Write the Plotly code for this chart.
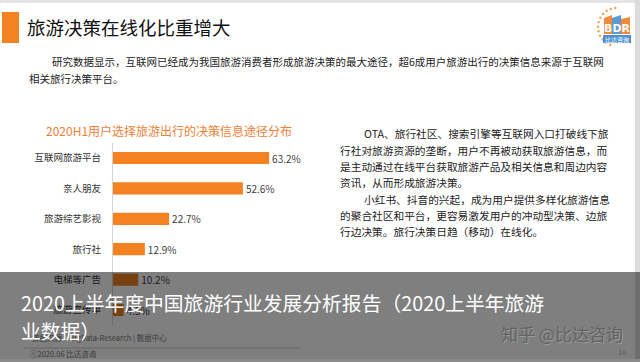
import plotly.graph_objects as go
import math

# ---- data ----
categories = ["互联网旅游平台", "亲人朋友", "旅游综艺影视", "旅行社", "电梯等广告", "旅游宣传单"]
values = [63.2, 52.6, 22.7, 12.9, 10.2, 4.3]
value_labels = [f"{v:.1f}%" for v in values]

page_title = "旅游决策在线化比重增大"
intro_line1 = "研究数据显示，互联网已经成为我国旅游消费者形成旅游决策的最大途径，超6成用户旅游出行的决策信息来源于互联网"
intro_line2 = "相关旅行决策平台。"
chart_title = "2020H1用户选择旅游出行的决策信息途径分布"
right_lines = [
    "OTA、旅行社区、搜索引擎等互联网入口打破线下旅",
    "行社对旅游资源的垄断，用户不再被动获取旅游信息，而",
    "是主动通过在线平台获取旅游产品及相关信息和周边内容",
    "资讯，从而形成旅游决策。",
    "小红书、抖音的兴起，成为用户提供多样化旅游信息",
    "的聚合社区和平台，更容易激发用户的冲动型决策、边旅",
    "行边决策。旅行决策日趋（移动）在线化。",
]
source_text = "数据来源：BigData-Research | 数据中心"
copyright_text = "ⓒ2020.06 比达咨询"
overlay_line1 = "2020上半年度中国旅游行业发展分析报告（2020上半年旅游"
overlay_line2 = "业数据）"
watermark = "知乎 @比达咨询"
page_no = "10"

W, H = 640, 362
FONT = "Noto Sans CJK SC"
ORANGE = "#F58220"


def px(x):
    return x / W


def py(y):
    return 1 - y / H


fig = go.Figure()
fig.add_trace(go.Bar(
    x=values, y=categories, orientation="h",
    marker=dict(color=ORANGE, line=dict(width=0)),
    text=value_labels, textposition="outside", cliponaxis=False,
    textfont=dict(size=10, color="#404040", family=FONT),
    hoverinfo="skip",
))

shapes = []
annotations = []

# slide border bits
shapes.append(dict(type="rect", xref="paper", yref="paper", x0=0, x1=1, y0=py(3), y1=1,
                   fillcolor="#e4e4e4", line=dict(width=0), layer="below"))
shapes.append(dict(type="rect", xref="paper", yref="paper", x0=px(635), x1=1, y0=0, y1=1,
                   fillcolor="#dcdcdc", line=dict(width=0), layer="below"))
# orange title marker
shapes.append(dict(type="rect", xref="paper", yref="paper", x0=px(2), x1=px(19), y0=py(43), y1=py(12),
                   fillcolor=ORANGE, line=dict(width=0), layer="below"))

# logo (simplified)
for i in range(12):
    a = math.radians(95 + i * 14)
    cx, cy = 617 + 19 * math.cos(a), 27 - 19 * math.sin(a)
    shapes.append(dict(type="circle", xref="paper", yref="paper",
                       x0=px(cx - 1.2), x1=px(cx + 1.2), y0=py(cy + 1.2), y1=py(cy - 1.2),
                       fillcolor="#F5A050", line=dict(width=0), layer="below"))
shapes.append(dict(type="path", xref="paper", yref="paper",
                   path=f"M {px(604)},{py(34)} L {px(604)},{py(18)} L {px(612)},{py(15)} L {px(612)},{py(34)} Z",
                   fillcolor="#F08A3A", line=dict(width=0), layer="below"))
shapes.append(dict(type="path", xref="paper", yref="paper",
                   path=f"M {px(612)},{py(34)} L {px(612)},{py(18)} L {px(621)},{py(15)} L {px(621)},{py(34)} Z",
                   fillcolor="#5B9BD5", line=dict(width=0), layer="below"))
shapes.append(dict(type="path", xref="paper", yref="paper",
                   path=f"M {px(621)},{py(34)} L {px(621)},{py(19)} L {px(630)},{py(17)} L {px(630)},{py(34)} Z",
                   fillcolor="#F08A3A", line=dict(width=0), layer="below"))
shapes.append(dict(type="rect", xref="paper", yref="paper", x0=px(603), x1=px(631), y0=py(43), y1=py(35),
                   fillcolor="#4A90D0", line=dict(width=0), layer="below"))
annotations.append(dict(text="<b>BDR</b>", x=px(617), y=py(29), xref="paper", yref="paper",
                        showarrow=False, font=dict(size=11, color="white", family="DejaVu Sans"),
                        xanchor="center", yanchor="middle"))
annotations.append(dict(text="比达咨询", x=px(617), y=py(39.5), xref="paper", yref="paper",
                        showarrow=False, font=dict(size=6, color="white", family=FONT),
                        xanchor="center", yanchor="middle"))

# title and intro
annotations.append(dict(text=page_title, x=px(25), y=py(27), xref="paper", yref="paper",
                        showarrow=False, font=dict(size=18.5, color="#111111", family=FONT),
                        xanchor="left", yanchor="middle"))
annotations.append(dict(text=intro_line1, x=px(50), y=py(61.5), xref="paper", yref="paper",
                        showarrow=False, font=dict(size=10.5, color="#222222", family=FONT),
                        xanchor="left", yanchor="middle"))
annotations.append(dict(text=intro_line2, x=px(27), y=py(78), xref="paper", yref="paper",
                        showarrow=False, font=dict(size=10.5, color="#222222", family=FONT),
                        xanchor="left", yanchor="middle"))

# chart title
annotations.append(dict(text=chart_title, x=px(169), y=py(130), xref="paper", yref="paper",
                        showarrow=False, font=dict(size=12, color="#EE8036", family=FONT),
                        xanchor="center", yanchor="middle"))

# right text block
line_y = [133.5, 150.5, 166.2, 182, 199, 215, 231]
for i, (t, yy) in enumerate(zip(right_lines, line_y)):
    x0 = 362 if i in (0, 4) else 338
    annotations.append(dict(text=t, x=px(x0), y=py(yy), xref="paper", yref="paper",
                            showarrow=False, font=dict(size=10.7, color="#222222", family=FONT),
                            xanchor="left", yanchor="middle"))

# source & copyright (under overlay -> pre-darkened colours)
annotations.append(dict(text=source_text, x=px(169), y=py(337.5), xref="paper", yref="paper",
                        showarrow=False, font=dict(size=7.5, color="#3a3a3a", family=FONT),
                        xanchor="right", yanchor="middle"))
annotations.append(dict(text=copyright_text, x=px(28), y=py(353), xref="paper", yref="paper",
                        showarrow=False, font=dict(size=7.5, color="#3a3a3a", family=FONT),
                        xanchor="left", yanchor="middle"))

# grey overlay band
shapes.append(dict(type="rect", xref="paper", yref="paper", x0=0, x1=1, y0=py(359), y1=py(272),
                   fillcolor="rgba(0,0,0,0.5)", line=dict(width=0), layer="above"))
shapes.append(dict(type="rect", xref="paper", yref="paper", x0=0, x1=1, y0=0, y1=py(359),
                   fillcolor="#8a8a8a", line=dict(width=0), layer="above"))
shapes.append(dict(type="line", xref="paper", yref="paper", x0=px(24), x1=px(300), y0=py(348), y1=py(348),
                   line=dict(color="#666666", width=1), layer="above"))

annotations.append(dict(text=overlay_line1, x=px(19), y=py(302), xref="paper", yref="paper",
                        showarrow=False, font=dict(size=19.8, color="white", family=FONT),
                        xanchor="left", yanchor="middle"))
annotations.append(dict(text=overlay_line2, x=px(19), y=py(330), xref="paper", yref="paper",
                        showarrow=False, font=dict(size=19.8, color="white", family=FONT),
                        xanchor="left", yanchor="middle"))
annotations.append(dict(text=watermark, x=px(625), y=py(333), xref="paper", yref="paper",
                        showarrow=False,
                        font=dict(size=17, color="#626262", family=FONT, shadow="1px 1px 0px #9a9a9a"),
                        xanchor="right", yanchor="middle"))
annotations.append(dict(text=page_no, x=px(628), y=py(352), xref="paper", yref="paper",
                        showarrow=False, font=dict(size=7, color="#555555", family=FONT),
                        xanchor="right", yanchor="middle"))

fig.update_layout(
    width=W, height=H,
    margin=dict(l=0, r=0, t=0, b=0),
    paper_bgcolor="white", plot_bgcolor="rgba(0,0,0,0)",
    showlegend=False,
    bargap=0.6,
    uniformtext=dict(mode=False),
    font=dict(family=FONT),
    xaxis=dict(domain=[px(113), px(360)], range=[0, 100], visible=False, fixedrange=True),
    yaxis=dict(domain=[py(325.2), py(142.8)], autorange="reversed",
               showline=True, linecolor="#d4d4d4", linewidth=1,
               showgrid=False, zeroline=False, ticks="",
               ticklabelstandoff=9,
               tickfont=dict(size=9.5, color="#333333", family=FONT),
               fixedrange=True),
    shapes=shapes,
    annotations=annotations,
)
fig.update_traces(constraintext="none")

fig.write_html("out.html", config={"displayModeBar": False})
